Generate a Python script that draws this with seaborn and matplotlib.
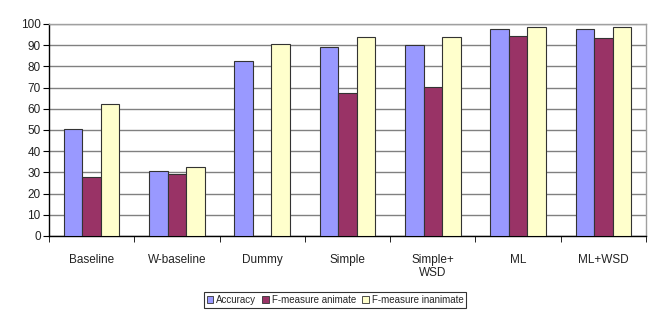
import matplotlib
matplotlib.use("Agg")
import matplotlib.pyplot as plt
import seaborn as sns
import pandas as pd
import numpy as np
from matplotlib.patches import Patch

categories = ["Baseline", "W-baseline", "Dummy", "Simple", "Simple+\nWSD", "ML", "ML+WSD"]
accuracy = [50.3, 30.8, 82.7, 89.3, 90.1, 97.8, 97.8]
f_animate = [28.0, 29.2, 0.0, 67.6, 70.4, 94.3, 93.3]
f_inanimate = [62.1, 32.4, 90.6, 93.7, 93.7, 98.7, 98.7]
series = ["Accuracy", "F-measure animate", "F-measure inanimate"]
colors = ["#9999FF", "#993366", "#FFFFCC"]

df = pd.DataFrame({
    "cat": categories * 3,
    "val": accuracy + f_animate + f_inanimate,
    "series": [series[0]] * 7 + [series[1]] * 7 + [series[2]] * 7,
})

sns.set_style("white")
plt.rcParams["font.family"] = ["Liberation Sans", "DejaVu Sans"]

fig = plt.figure(figsize=(6.54, 3.17), dpi=100)
ax = fig.add_axes([49 / 654, 1 - 236 / 317, (646 - 49) / 654, (236 - 24) / 317])

sns.barplot(data=df, x="cat", y="val", hue="series", palette=colors, width=0.65,
            saturation=1, edgecolor="#333333", linewidth=0.8, ax=ax, legend=False, zorder=3)

ax.set_ylim(0, 100)
ax.set_xlim(-0.5, len(categories) - 0.5)
ax.set_yticks(range(0, 101, 10))
ax.yaxis.grid(True, color="#808080", linewidth=1.0, zorder=0)
ax.set_axisbelow(True)
ax.set_xlabel("")
ax.set_ylabel("")

for s in ["top", "right"]:
    ax.spines[s].set_color("#A0A0A0")
    ax.spines[s].set_linewidth(1.0)
for s in ["left", "bottom"]:
    ax.spines[s].set_color("#000000")
    ax.spines[s].set_linewidth(1.0)

ax.tick_params(axis="y", length=4, direction="out", left=True, labelsize=8.5, pad=2, color="black",
               labelcolor="#222222")
ax.set_xticks(range(len(categories)))
ax.set_xticklabels(categories, fontsize=8.5, linespacing=1.1, va="top", color="#222222")
ax.tick_params(axis="x", which="major", length=0, pad=13)
ax.set_xticks(np.arange(-0.5, len(categories), 1.0), minor=True)
ax.tick_params(axis="x", which="minor", length=4, direction="out", bottom=True, color="black")

handles = [Patch(facecolor=c, edgecolor="#333333", linewidth=0.6, label=s) for c, s in zip(colors, series)]
leg = fig.legend(handles=handles, loc="center", bbox_to_anchor=(335 / 654, 1 - 300 / 317), ncol=3,
                 fontsize=7, frameon=True, fancybox=False, edgecolor="black",
                 handlelength=0.7, handleheight=0.7, handletextpad=0.3, columnspacing=0.6,
                 borderpad=0.3)
leg.get_frame().set_linewidth(0.8)

fig.savefig("out.png", dpi=100)
